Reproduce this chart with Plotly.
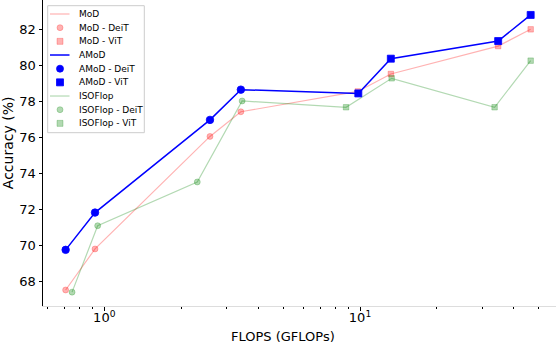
import plotly.graph_objects as go

# ---- data ----
mod_deit_flops = [0.706, 0.92, 2.59, 3.42]
mod_deit_acc = [67.52, 69.8, 76.05, 77.42]
mod_vit_flops = [9.8, 13.2, 34.7, 46.5]
mod_vit_acc = [78.55, 79.52, 81.07, 82.0]

amod_deit_flops = [0.706, 0.92, 2.59, 3.42]
amod_deit_acc = [69.75, 71.82, 76.97, 78.65]
amod_vit_flops = [9.85, 13.2, 34.7, 46.5]
amod_vit_acc = [78.44, 80.37, 81.35, 82.8]

iso_deit_flops = [0.748, 0.942, 2.31, 3.46]
iso_deit_acc = [67.4, 71.09, 73.52, 78.02]
iso_vit_flops = [8.82, 13.3, 33.6, 46.5]
iso_vit_acc = [77.67, 79.28, 77.67, 80.26]

y_ticks = [68, 70, 72, 74, 76, 78, 80, 82]
x_ticks = [1, 10]
x_ticktext = ["10<sup>0</sup>", "10<sup>1</sup>"]
x_minor = [0.6, 0.7, 0.8, 0.9, 2, 3, 4, 5, 6, 7, 8, 9, 20, 30, 40, 50]

legend_labels = ["MoD", "MoD - DeiT", "MoD - ViT",
                 "AMoD", "AMoD - DeiT", "AMoD - ViT",
                 "ISOFlop", "ISOFlop - DeiT", "ISOFlop - ViT"]

PINK = "rgba(255,0,0,0.3)"
GREEN = "rgba(0,128,0,0.3)"
BLUE = "rgb(0,0,255)"

W, H = 556, 344
ML, MR, MT, MB = 43, 0, 0, 38
PW, PH = W - ML - MR, H - MT - MB

fig = go.Figure()

series = [
    (mod_deit_flops, mod_deit_acc, mod_vit_flops, mod_vit_acc, PINK, 1.2, 6, 5.5),
    (iso_deit_flops, iso_deit_acc, iso_vit_flops, iso_vit_acc, GREEN, 1.2, 6, 5.5),
    (amod_deit_flops, amod_deit_acc, amod_vit_flops, amod_vit_acc, BLUE, 1.5, 7.5, 7),
]
for dx, dy, vx, vy, col, lw, cs, ss in series:
    fig.add_trace(go.Scatter(x=dx + vx, y=dy + vy, mode="lines",
                             line=dict(color=col, width=lw), showlegend=False,
                             hoverinfo="skip"))
    fig.add_trace(go.Scatter(x=dx, y=dy, mode="markers",
                             marker=dict(symbol="circle", size=cs, color=col,
                                         line=dict(color=col, width=0.8)),
                             showlegend=False))
    fig.add_trace(go.Scatter(x=vx, y=vy, mode="markers",
                             marker=dict(symbol="square", size=ss, color=col,
                                         line=dict(color=col, width=0.8)),
                             showlegend=False))


def PX(px):
    return (px - ML) / PW


def PY(py):
    return 1 - (py - MT) / PH


shapes = []
annotations = []

# legend frame
shapes.append(dict(type="rect", xref="paper", yref="paper",
                   x0=PX(47.7), x1=PX(144.3), y0=PY(5.7), y1=PY(132.7),
                   line=dict(color="#cccccc", width=1),
                   fillcolor="rgba(255,255,255,0.85)", layer="above"))

legend_colors = [PINK] * 3 + [BLUE] * 3 + [GREEN] * 3
for i, lab in enumerate(legend_labels):
    cy = 14 + 13.67 * i
    col = legend_colors[i]
    kind = i % 3
    big = col == BLUE
    r = 3.5 if big else 3
    if kind == 0:
        shapes.append(dict(type="line", xref="paper", yref="paper",
                           x0=PX(50), x1=PX(69.5), y0=PY(cy), y1=PY(cy),
                           line=dict(color=col, width=1.5 if big else 1.2),
                           layer="above"))
    else:
        shapes.append(dict(type="circle" if kind == 1 else "rect",
                           xref="paper", yref="paper",
                           x0=PX(60 - r), x1=PX(60 + r), y0=PY(cy - r), y1=PY(cy + r),
                           line=dict(color=col, width=0.8), fillcolor=col,
                           layer="above"))
    annotations.append(dict(text=lab, xref="paper", yref="paper",
                            x=PX(76.5), y=PY(cy), xanchor="left", yanchor="middle",
                            showarrow=False,
                            font=dict(family="DejaVu Sans", size=9, color="black")))

# axis titles
annotations.append(dict(text="FLOPS (GFLOPs)", xref="paper", yref="paper",
                        x=PX(283), y=PY(336), xanchor="center", yanchor="middle",
                        showarrow=False,
                        font=dict(family="Liberation Sans Narrow, DejaVu Sans", size=13, color="black")))
annotations.append(dict(text="Accuracy (%)", xref="paper", yref="paper",
                        x=PX(7.5), y=PY(142.7), xanchor="center", yanchor="middle",
                        textangle=-90, showarrow=False,
                        font=dict(family="DejaVu Sans", size=14, color="black")))

fig.update_layout(
    width=W, height=H,
    margin=dict(l=ML, r=MR, t=MT, b=MB, pad=0),
    paper_bgcolor="white", plot_bgcolor="white",
    font=dict(family="DejaVu Sans", size=13, color="black"),
    shapes=shapes, annotations=annotations,
    showlegend=False,
)
fig.update_xaxes(type="log", range=[-0.2397, 1.7665],
                 tickvals=x_ticks, ticktext=x_ticktext,
                 ticks="outside", ticklen=3.5, tickwidth=1, tickcolor="black",
                 ticklabelstandoff=-4,
                 showgrid=False, zeroline=False,
                 showline=True, linecolor="#dddddd", linewidth=1,
                 tickfont=dict(family="DejaVu Sans", size=13, color="black"),
                 minor=dict(tickvals=x_minor, ticks="outside", ticklen=2,
                            tickwidth=0.8, tickcolor="black", showgrid=False))
fig.update_yaxes(range=[66.63, 83.63], tickvals=y_ticks,
                 ticks="outside", ticklen=3.5, tickwidth=1, tickcolor="black",
                 showgrid=False, zeroline=False,
                 showline=True, linecolor="black", linewidth=1,
                 tickfont=dict(family="DejaVu Sans", size=13, color="black"))

fig.write_html("out.html", config={"displayModeBar": False},
               post_script="document.body.style.margin='0';document.body.style.overflow='hidden';")
